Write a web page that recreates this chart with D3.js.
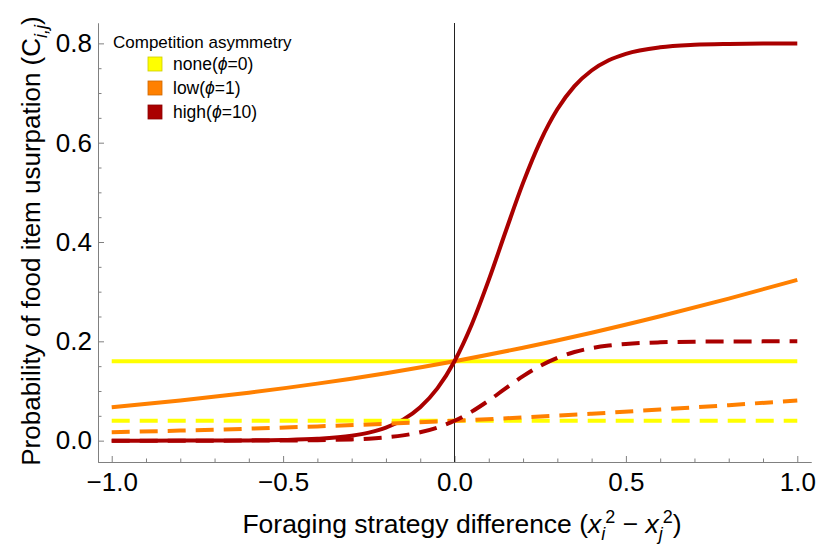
<!DOCTYPE html>
<html lang="en">
	<head>
		<meta charset="utf-8">
		<title>Competition asymmetry</title>
		<script src="https://d3js.org/d3.v7.min.js"></script>
		<style type="text/css">
			body { margin: 0; background: #fff; }
			text { font-family: "Liberation Sans", Arial, sans-serif; }
		</style>
	</head>
	<body>
		<script type="text/javascript">

			//Width and height
			var w = 819;
			var h = 544;

			// data
			var xNone = [-1, 1];
			var noneSolid = [0.16, 0.16];
			var noneDashed = [0.04, 0.04];

			var xLow = [-1, -0.8, -0.6, -0.4, -0.2, 0, 0.2, 0.4, 0.6, 0.8, 1];
			var lowSolid = [0.0674, 0.0808, 0.0965, 0.1148, 0.1359, 0.16, 0.1871, 0.2173, 0.2504, 0.286, 0.3237];
			var lowDashed = [0.0169, 0.0202, 0.0241, 0.0287, 0.034, 0.04, 0.0468, 0.0543, 0.0626, 0.0715, 0.0809];

			var xHigh = [-1, -0.8, -0.6, -0.5, -0.4, -0.3, -0.25, -0.2, -0.15, -0.1, -0.05, 0, 0.05, 0.1, 0.15, 0.2, 0.25, 0.3, 0.35, 0.4, 0.45, 0.5, 0.6, 0.7, 0.8, 0.9, 1];
			var highSolid = [0, 0.0001, 0.0005, 0.0013, 0.0036, 0.0098, 0.0161, 0.0262, 0.0423, 0.0674, 0.1053, 0.16, 0.2335, 0.3237, 0.4227, 0.519, 0.6023, 0.6672, 0.7138, 0.7454, 0.766, 0.779, 0.7921, 0.7971, 0.7989, 0.7996, 0.7999];
			var highDashed = [0, 0, 0.0001, 0.0003, 0.0009, 0.0025, 0.004, 0.0066, 0.0106, 0.0169, 0.0263, 0.04, 0.0584, 0.0809, 0.1057, 0.1298, 0.1506, 0.1668, 0.1785, 0.1864, 0.1915, 0.1948, 0.198, 0.1993, 0.1997, 0.1999, 0.2];

			var xTicks = [-1, -0.5, 0, 0.5, 1];
			var yTicks = [0, 0.2, 0.4, 0.6, 0.8];
			var legendNames = ["none", "low", "high"];
			var legendPhi = ["0", "1", "10"];
			var colors = ["#ffff00", "#ff8000", "#aa0000"];

			var x = d3.scaleLinear().domain([-1.04, 1.04]).range([98, 811]);
			var y = d3.scaleLinear().domain([-0.043, 0.841]).range([462, 23]);

			//Create SVG element
			var svg = d3.select("body")
						.append("svg")
						.attr("width", w)
						.attr("height", h);

			// minor ticks
			var xMinor = d3.range(-10, 11).map(function (i) { return i / 10; })
				.filter(function (v) { return xTicks.indexOf(v) < 0; });
			var yMinor = d3.range(0, 17).map(function (i) { return i / 20; })
				.filter(function (v) { return yTicks.indexOf(v) < 0; });

			svg.append("g")
				.attr("transform", "translate(0," + y.range()[0] + ")")
				.call(d3.axisBottom(x).tickValues(xMinor).tickSize(-3.5).tickSizeOuter(0).tickFormat(""));
			svg.append("g")
				.attr("transform", "translate(" + x.range()[0] + ",0)")
				.call(d3.axisLeft(y).tickValues(yMinor).tickSize(-3.5).tickSizeOuter(0).tickFormat(""));

			svg.append("g")
				.attr("transform", "translate(0," + y.range()[0] + ")")
				.call(d3.axisBottom(x).tickValues(xTicks).tickSize(-6).tickSizeOuter(0)
					.tickPadding(11).tickFormat(d3.format(".1f")));
			svg.append("g")
				.attr("transform", "translate(" + x.range()[0] + ",0)")
				.call(d3.axisLeft(y).tickValues(yTicks).tickSize(-6).tickSizeOuter(0)
					.tickPadding(6).tickFormat(d3.format(".1f")));

			svg.selectAll(".domain, .tick line").attr("stroke", "#808080");
			svg.selectAll(".tick text").attr("fill", "#000").style("font-size", "26px")
				.style("font-family", "'Liberation Sans', Arial, sans-serif");

			// vertical line at zero
			svg.append("line")
				.attr("x1", x(0)).attr("x2", x(0))
				.attr("y1", y.range()[1]).attr("y2", y.range()[0])
				.attr("stroke", "#222").attr("stroke-width", 1);

			var line = d3.line()
				.x(function (d) { return x(d[0]); })
				.y(function (d) { return y(d[1]); })
				.curve(d3.curveMonotoneX);

			var series = [
				{xs: xNone, ys: noneSolid, c: colors[0], dash: null},
				{xs: xLow, ys: lowSolid, c: colors[1], dash: null},
				{xs: xHigh, ys: highSolid, c: colors[2], dash: null},
				{xs: xNone, ys: noneDashed, c: colors[0], dash: "18,10"},
				{xs: xLow, ys: lowDashed, c: colors[1], dash: "18,10"},
				{xs: xHigh, ys: highDashed, c: colors[2], dash: "18,10"}
			];

			svg.selectAll("path.curve")
				.data(series)
				.enter()
				.append("path")
				.attr("class", "curve")
				.attr("d", function (s) { return line(d3.zip(s.xs, s.ys)); })
				.attr("fill", "none")
				.attr("stroke", function (s) { return s.c; })
				.attr("stroke-width", 4)
				.attr("stroke-dasharray", function (s) { return s.dash; });

			// legend
			svg.append("text")
				.attr("x", 113).attr("y", 48)
				.style("font-size", "17px")
				.text("Competition asymmetry");

			var leg = svg.selectAll("g.leg")
				.data(legendNames)
				.enter()
				.append("g")
				.attr("class", "leg")
				.attr("transform", function (d, i) { return "translate(148," + (64 + i * 24) + ")"; });

			leg.append("rect")
				.attr("x", 0).attr("y", -7).attr("width", 14).attr("height", 14)
				.attr("fill", function (d, i) { return colors[i]; })
				.attr("stroke", function (d, i) { return d3.color(colors[i]).darker(0.6); })
				.attr("stroke-width", 0.8);

			var lt = leg.append("text")
				.attr("x", 25).attr("y", 6)
				.style("font-size", "17.5px");
			lt.append("tspan").text(function (d) { return d + "("; });
			lt.append("tspan").style("font-style", "italic").text("\u03d5");
			lt.append("tspan").text(function (d, i) { return "=" + legendPhi[i] + ")"; });

			// x axis title
			var xt = svg.append("text")
				.attr("x", 462).attr("y", 533)
				.attr("text-anchor", "middle")
				.style("font-size", "26.5px");
			xt.append("tspan").text("Foraging strategy difference (");
			xt.append("tspan").style("font-style", "italic").text("x");
			xt.append("tspan").attr("dy", 7).style("font-size", "18px").style("font-style", "italic").text("i");
			xt.append("tspan").attr("dy", -17).style("font-size", "18px").text("2");
			xt.append("tspan").attr("dy", 10).text(" \u2212 ");
			xt.append("tspan").style("font-style", "italic").text("x");
			xt.append("tspan").attr("dy", 7).style("font-size", "18px").style("font-style", "italic").text("j");
			xt.append("tspan").attr("dy", -17).style("font-size", "18px").text("2");
			xt.append("tspan").attr("dy", 10).text(")");

			// y axis title
			var yt = svg.append("text")
				.attr("transform", "translate(40,241) rotate(-90)")
				.attr("text-anchor", "middle")
				.style("font-size", "26px");
			yt.append("tspan").text("Probability of food item usurpation (C");
			yt.append("tspan").attr("dy", 7).style("font-size", "18px").style("font-style", "italic").text("i,j");
			yt.append("tspan").attr("dy", -7).text(")");

		</script>
	</body>
</html>
